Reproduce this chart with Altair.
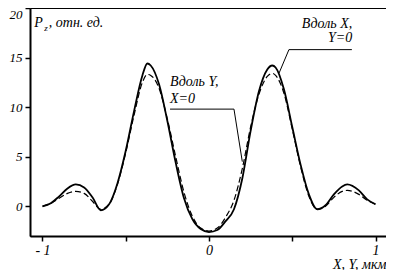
import altair as alt
import pandas as pd

# Position along X or Y, micrometres
pos = [-1.0, -0.95, -0.9, -0.85, -0.8, -0.75, -0.7, -0.65, -0.6, -0.55, -0.5, -0.45,
       -0.4, -0.37, -0.35, -0.3, -0.25, -0.2, -0.15, -0.1, -0.05, 0.0, 0.05, 0.1,
       0.15, 0.2, 0.25, 0.3, 0.35, 0.38, 0.4, 0.45, 0.5, 0.55, 0.6, 0.65, 0.7,
       0.75, 0.8, 0.83, 0.9, 0.95, 1.0]
# Along X, Y=0 (solid)
along_x = [0.0, 0.3, 1.0, 1.8, 2.2, 1.9, 0.9, -0.4, 0.2, 2.3, 5.6, 9.6,
           13.2, 14.4, 14.2, 12.3, 8.6, 4.4, 0.8, -1.3, -2.3, -2.6, -2.4, -1.5,
           -0.3, 2.8, 7.6, 11.6, 13.8, 14.2, 14.0, 11.8, 8.0, 4.2, 1.2, -0.3, 0.1,
           1.2, 2.0, 2.2, 1.6, 0.7, 0.2]
# Along Y, X=0 (dashed)
along_y = [0.0, 0.3, 0.8, 1.3, 1.5, 1.3, 0.5, -0.3, 0.2, 2.2, 5.4, 9.2,
           12.5, 13.3, 13.2, 11.9, 8.8, 5.0, 1.4, -1.0, -2.2, -2.5, -2.2, -1.1,
           0.6, 3.8, 8.0, 11.3, 13.1, 13.4, 13.2, 11.4, 7.8, 4.0, 1.0, -0.3, 0.0,
           0.9, 1.5, 1.6, 1.2, 0.6, 0.2]

x_ticks = [-1, -0.5, 0, 0.5, 1]
y_ticks = [0, 5, 10, 15, 20]

FONT = "Liberation Serif"

df = pd.DataFrame({"pos": pos, "ax": along_x, "ay": along_y})

xs = alt.Scale(domain=[-1.075, 1.063], nice=False, zero=False)
ys = alt.Scale(domain=[-3, 20], nice=False, zero=False)

xaxis = alt.Axis(values=x_ticks, grid=False, tickSize=5, tickColor="black",
                 domainColor="black", domainWidth=2, tickWidth=1.5,
                 labelFont=FONT, labelFontStyle="italic", labelFontSize=14,
                 labelColor="black", labelPadding=2,
                 labelExpr="datum.value == -1 ? '- 1' : (datum.value == 0 ? '0' : (datum.value == 1 ? '1' : ''))",
                 title="X, Y, мкм", titleFont=FONT, titleFontStyle="italic",
                 titleFontWeight="normal", titleFontSize=14, titleColor="black",
                 titleAnchor="end", titleAlign="right", titleX=356, titleY=32,
                 titleBaseline="alphabetic")
yaxis = alt.Axis(values=y_ticks, grid=False, tickSize=5, tickColor="black",
                 domainColor="black", domainWidth=2, tickWidth=1.5,
                 labelFont=FONT, labelFontStyle="italic", labelFontSize=13,
                 labelColor="black", labelPadding=3, labelFlush=True, title=None)

base = alt.Chart(df)
solid = base.mark_line(color="black", strokeWidth=1.8, interpolate="monotone").encode(
    x=alt.X("pos:Q", scale=xs, axis=xaxis),
    y=alt.Y("ax:Q", scale=ys, axis=yaxis),
)
dashed = base.mark_line(color="black", strokeWidth=1.2, strokeDash=[6, 3],
                        interpolate="monotone").encode(
    x=alt.X("pos:Q", scale=xs),
    y=alt.Y("ay:Q", scale=ys),
)

# annotation texts
ann = pd.DataFrame({
    "x": [0.86, 0.86, -0.234, -0.234],
    "y": [18.4, 17.0, 12.5, 10.8],
    "t": ["Вдоль X,", "Y=0", "Вдоль Y,", "X=0"],
    "a": ["right", "right", "left", "left"],
})
txt_r = alt.Chart(ann[ann.a == "right"]).mark_text(
    font=FONT, fontStyle="italic", fontSize=14, align="right", baseline="middle",
    color="black").encode(x=alt.X("x:Q", scale=xs), y=alt.Y("y:Q", scale=ys), text="t:N")
txt_l = alt.Chart(ann[ann.a == "left"]).mark_text(
    font=FONT, fontStyle="italic", fontSize=14, align="left", baseline="middle",
    color="black").encode(x=alt.X("x:Q", scale=xs), y=alt.Y("y:Q", scale=ys), text="t:N")

leaders = pd.DataFrame({
    "x1": [0.48, 0.48, -0.234, 0.15],
    "y1": [15.8, 15.8, 9.8, 9.8],
    "x2": [0.858, 0.42, 0.15, 0.2],
    "y2": [15.8, 13.4, 9.8, 4.5],
})
rules = alt.Chart(leaders).mark_rule(color="black", strokeWidth=1).encode(
    x=alt.X("x1:Q", scale=xs), y=alt.Y("y1:Q", scale=ys),
    x2="x2:Q", y2="y2:Q")

# y-axis title: P with subscript z
ytitle = pd.DataFrame({"x": [-1.05, -0.99, -0.962], "y": [18.5, 18.0, 18.5],
                       "t": ["P", "z", ", отн. ед."], "s": [14, 9, 14]})
yt = alt.Chart(ytitle).mark_text(font=FONT, fontStyle="italic", align="left",
                                 baseline="middle", color="black").encode(
    x=alt.X("x:Q", scale=xs), y=alt.Y("y:Q", scale=ys), text="t:N",
    size=alt.Size("s:Q", scale=None, legend=None))

chart = alt.layer(solid, dashed, rules, txt_r, txt_l, yt).properties(
    width=356, height=228,
    autosize=alt.AutoSizeParams(type="none"),
    padding={"left": 22, "top": 0, "right": 0, "bottom": 34},
    background="white",
).configure_view(stroke="black", strokeWidth=1)

chart.save("out.html", embed_options={"renderer": "svg", "actions": False})
